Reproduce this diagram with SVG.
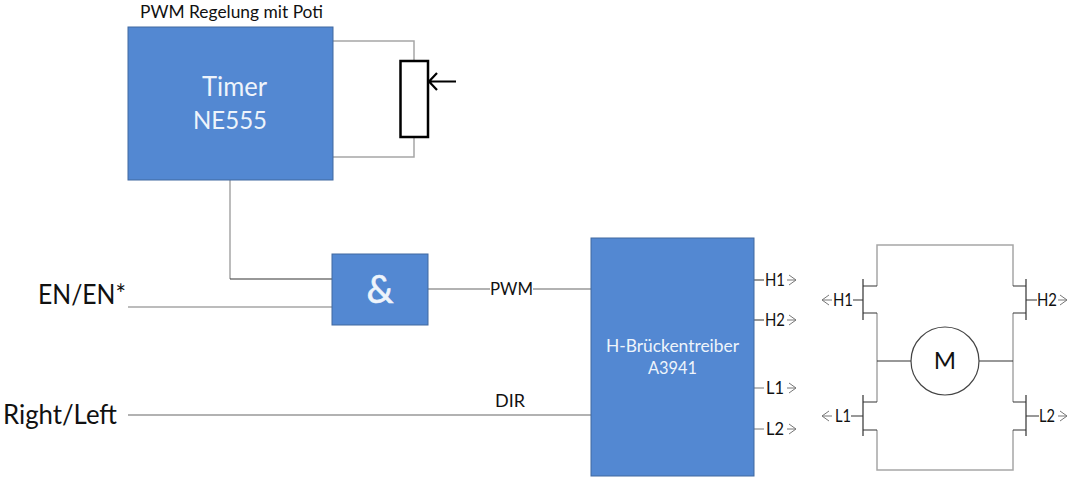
<svg xmlns="http://www.w3.org/2000/svg" width="1075" height="484" viewBox="0 0 1075 484">
<style>
.box{fill:#5388d2;stroke:#41699f;stroke-width:1}
.w{fill:none;stroke:#a6a6a6;stroke-width:1.5}
.k{fill:none;stroke:#333;stroke-width:1.2}
.d{fill:none;stroke:#666;stroke-width:1.2}
.g{fill:none;stroke:#777;stroke-width:1}
.t{font-family:Lato,"Open Sans",sans-serif;fill:#111}
.s{font-size:17px}
.l{font-size:26px}
.wt{font-family:Lato,"Open Sans",sans-serif;fill:#eef4fb}
</style>
<rect width="1075" height="484" fill="#fff"/>
<g id="connectors">
<path class="w" d="M333 41H414V61M414 137V157H333"/>
<path class="w" d="M230 180V279"/>
<path class="k" d="M230 279H332"/>
<path class="w" d="M128 307H332"/>
<path class="d" d="M428 289H490M533 289H591"/>
<path class="d" d="M128 415H591"/>
<path class="k" d="M754 280H764M754 320H764"/>
<path class="g" d="M754 388H764M754 429H764"/>
<path class="g" d="M787 280H796M789 275L796 280L789 285M787 320H796M789 315L796 320L789 325M787 388H796M789 383L796 388L789 393M787 429H796M789 424L796 429L789 434"/>
<path class="w" d="M877 286V245H1013V286M877 313V402M1013 313V402M877 430V470H1013V430"/>
<path class="k" d="M877 361H911M979 361H1013"/>
<path class="k" d="M863 279V320M877 286H863M877 313H863M863 300H853"/>
<path class="k" d="M863 395V436M877 402H863M877 430H863M863 416H851"/>
<path class="k" d="M1026 279V320M1013 286H1026M1013 313H1026M1026 300H1037"/>
<path class="k" d="M1026 395V436M1013 402H1026M1013 430H1026M1026 416H1039"/>
<path class="g" d="M832 300H822M829 295L822 300L829 305M832 416H822M829 411L822 416L829 421M1058 300H1067M1060 295L1067 300L1060 305M1058 416H1067M1060 411L1067 416L1060 421"/>
</g>
<g id="timer"><rect class="box" x="128" y="27" width="205" height="153"/>
<text class="wt" x="202" y="96" font-size="26" textLength="65" lengthAdjust="spacingAndGlyphs">Timer</text>
<text class="wt" x="193" y="129" font-size="25" textLength="74" lengthAdjust="spacingAndGlyphs">NE555</text></g>
<g id="title"><text class="t" x="140" y="18" font-size="16.500" textLength="183" lengthAdjust="spacingAndGlyphs">PWM Regelung mit Poti</text></g>
<g id="poti"><rect x="400.500" y="61" width="27.500" height="76" fill="#fff" stroke="#000" stroke-width="2.500"/>
<path d="M456 81.500H429M437 73L429 81.500L437 90" fill="none" stroke="#000" stroke-width="2.200"/></g>
<g id="and"><rect class="box" x="332" y="254" width="96" height="71"/>
<text class="wt" x="380" y="303" font-size="38" text-anchor="middle" stroke="#eef4fb" stroke-width="0.600">&amp;</text></g>
<g id="bridge"><rect class="box" x="591" y="238" width="163" height="238"/>
<text class="wt" x="606" y="352" font-size="18" textLength="133" lengthAdjust="spacingAndGlyphs">H-Brückentreiber</text>
<text class="wt" x="648" y="374" font-size="18" textLength="49" lengthAdjust="spacingAndGlyphs">A3941</text></g>
<g id="motor"><circle cx="945" cy="361" r="34" fill="#fff" stroke="#444" stroke-width="1.200"/>
<text class="t" x="945" y="369" font-size="24" text-anchor="middle">M</text></g>
<g id="labels">
<text class="t l" x="38" y="304" textLength="88" lengthAdjust="spacingAndGlyphs">EN/EN*</text>
<text class="t l" x="3" y="424" textLength="114" lengthAdjust="spacingAndGlyphs">Right/Left</text>
<text class="t s" x="490" y="295" textLength="43" lengthAdjust="spacingAndGlyphs">PWM</text>
<text class="t s" x="495" y="407" textLength="30" lengthAdjust="spacingAndGlyphs">DIR</text>
<text class="t s" x="765" y="285.500" textLength="20" lengthAdjust="spacingAndGlyphs">H1</text>
<text class="t s" x="765" y="326" textLength="20" lengthAdjust="spacingAndGlyphs">H2</text>
<text class="t s" x="766" y="394" textLength="18" lengthAdjust="spacingAndGlyphs">L1</text>
<text class="t s" x="766" y="435" textLength="18" lengthAdjust="spacingAndGlyphs">L2</text>
<text class="t s" x="833" y="305.500" textLength="20" lengthAdjust="spacingAndGlyphs">H1</text>
<text class="t s" x="835" y="421.500" textLength="16" lengthAdjust="spacingAndGlyphs">L1</text>
<text class="t s" x="1037" y="305.500" textLength="20" lengthAdjust="spacingAndGlyphs">H2</text>
<text class="t s" x="1039" y="421.500" textLength="16" lengthAdjust="spacingAndGlyphs">L2</text>
</g>
</svg>
